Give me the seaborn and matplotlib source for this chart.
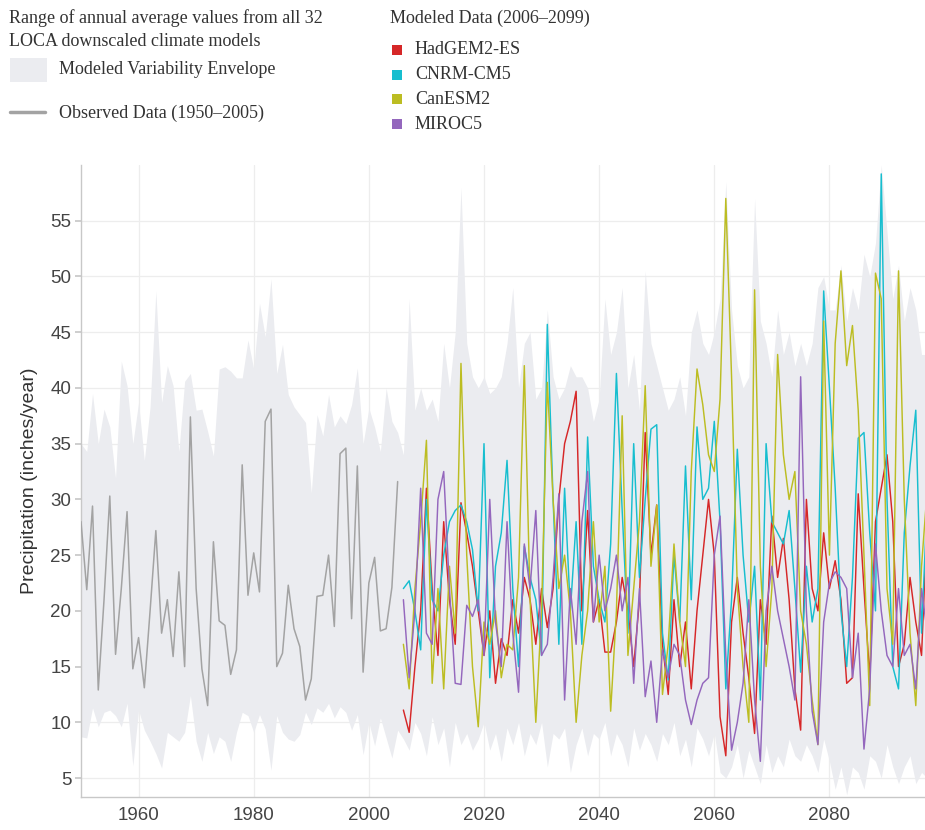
import numpy as np
import pandas as pd
import matplotlib
matplotlib.use("Agg")
import matplotlib.pyplot as plt
import seaborn as sns
from matplotlib.patches import Rectangle
from matplotlib.lines import Line2D

obs_years = list(range(1950, 2006))
observed = [28.0, 21.9, 29.4, 12.9, 21.0, 30.3, 16.1, 22.0, 28.9, 14.8,
            17.6, 13.1, 20.0, 27.2, 18.0, 21.0, 15.9, 23.5, 15.0, 37.4,
            22.0, 14.8, 11.5, 26.2, 19.1, 18.7, 14.3, 16.5, 33.1, 21.4,
            25.2, 21.7, 37.0, 38.1, 15.0, 16.2, 22.3, 18.4, 16.8, 12.0,
            13.9, 21.3, 21.4, 25.0, 18.6, 34.1, 34.6, 19.3, 33.0, 14.5,
            22.5, 24.8, 18.2, 18.4, 22.1, 31.6]

env_years = list(range(1950, 2100))
env_upper = [35.0, 34.3, 39.5, 35.0, 38.1, 36.5, 31.9, 42.4, 40.2, 35.0,
             38.7, 33.5, 38.3, 48.7, 38.7, 42.0, 40.2, 34.3, 40.6, 41.3,
             38.0, 38.1, 36.1, 33.9, 41.7, 41.9, 41.5, 40.9, 40.9, 44.3,
             41.7, 47.6, 44.6, 49.8, 41.3, 43.9, 39.4, 38.3, 37.6, 36.9,
             30.6, 37.6, 35.7, 39.4, 36.5, 37.5, 36.8, 38.5, 41.8, 35.0,
             38.2, 36.5, 34.3, 40.0, 37.0, 36.0,
             34.0, 48.0, 38.0, 40.0, 38.0, 39.0, 37.0, 44.0, 40.0, 45.0,
             58.0, 44.0, 41.0, 40.0, 41.0, 39.5, 40.0, 41.0, 44.0, 49.0,
             40.0, 44.0, 45.0, 39.0, 40.0, 47.0, 41.0, 39.0, 40.0, 42.0,
             41.0, 41.0, 40.0, 37.0, 39.0, 48.0, 43.0, 45.0, 49.0, 40.0,
             43.0, 38.0, 50.5, 44.0, 42.0, 40.0, 38.0, 39.0, 41.0, 37.5,
             45.0, 47.0, 44.0, 43.0, 45.0, 48.0, 58.5, 47.0, 42.0, 40.0,
             41.0, 57.0, 46.0, 44.0, 41.0, 47.0, 43.0, 45.0, 42.0, 44.0,
             42.0, 44.0, 49.0, 50.0, 47.0, 47.0, 51.0, 46.0, 49.0, 47.0,
             52.0, 50.0, 53.0, 60.0, 54.0, 48.0, 51.0, 46.0, 49.0, 47.0,
             43.0, 43.0, 44.0, 43.0]
env_lower = [8.7, 8.6, 11.3, 9.6, 10.9, 11.1, 10.6, 9.6, 11.7, 6.1,
             11.1, 9.3, 8.3, 7.2, 5.9, 9.1, 8.7, 8.3, 9.1, 12.4,
             8.3, 6.5, 9.1, 7.2, 8.7, 8.3, 6.5, 9.1, 10.9, 10.6,
             9.1, 10.7, 9.4, 5.7, 10.6, 9.1, 8.5, 8.3, 8.9, 10.9,
             9.8, 11.3, 10.9, 11.7, 10.4, 11.4, 10.9, 9.3, 10.7, 7.1,
             10.0, 7.9, 10.4, 8.6, 6.8, 9.3,
             8.5, 7.5, 10.0, 9.0, 7.0, 10.5, 8.0, 9.5, 6.0, 10.0,
             8.0, 9.0, 7.5, 8.5, 10.0, 7.5, 9.0, 6.5, 9.5, 8.0,
             10.0, 7.0, 9.0, 8.0, 10.0, 6.0, 9.0, 8.5, 9.5, 5.5,
             8.0, 9.5, 7.0, 9.0, 8.5, 10.0, 7.0, 9.0, 8.0, 6.0,
             9.5, 7.5, 9.0, 8.0, 6.5, 9.0, 8.0, 10.0, 7.0, 8.5,
             6.0, 9.5, 8.5, 7.0, 9.0, 5.5, 5.0, 6.0, 8.0, 5.0,
             7.5, 6.0, 4.5, 8.0, 5.5, 7.0, 6.0, 8.5, 7.0, 6.5,
             8.0, 7.0, 5.5, 8.5, 6.5, 4.0, 6.0, 3.5, 6.0, 5.5,
             4.0, 7.0, 6.5, 5.0, 8.0, 6.0, 4.5, 6.0, 7.0, 4.5,
             5.5, 5.0, 5.5, 5.0]

model_years = list(range(2006, 2100))
hadgem2_es = [11.1, 9.1, 15.0, 20.0, 31.0, 22.0, 16.0, 28.0, 21.0, 17.0,
              29.7, 27.0, 24.0, 20.0, 16.0, 20.0, 13.5, 17.5, 16.0, 21.0,
              18.0, 23.0, 21.0, 17.0, 22.0, 18.5, 22.0, 30.0, 35.0, 37.0,
              39.7, 20.0, 29.0, 19.0, 21.0, 16.3, 16.3, 19.0, 23.0, 20.0,
              15.0, 21.0, 36.0, 25.0, 29.5, 17.0, 12.5, 21.0, 15.0, 19.0,
              13.0, 20.0, 25.0, 30.0, 25.0, 10.5, 7.0, 19.0, 23.0, 18.0,
              14.0, 9.0, 21.0, 17.0, 28.5, 23.0, 26.5, 21.0, 13.0, 9.3,
              30.0, 22.0, 20.0, 27.0, 22.0, 24.5, 21.0, 13.5, 14.0, 30.5,
              22.0, 14.0, 28.0, 31.0, 34.0, 28.0, 15.0, 17.0, 23.0, 19.0,
              16.0, 28.5, 22.0, 25.0]
cnrm_cm5 = [22.0, 22.7, 20.0, 16.5, 30.0, 21.0, 20.0, 25.0, 28.0, 29.0,
            29.5, 28.0, 25.5, 20.0, 35.0, 14.0, 24.0, 27.0, 33.5, 22.0,
            15.0, 25.8, 23.0, 21.0, 16.0, 45.7, 30.0, 17.0, 31.0, 20.0,
            28.0, 17.0, 35.6, 24.0, 21.0, 19.0, 26.0, 41.3, 29.0, 18.0,
            35.0, 23.0, 30.0, 36.3, 36.7, 18.0, 13.8, 25.0, 19.0, 33.0,
            21.0, 36.5, 30.0, 31.0, 37.0, 28.0, 13.0, 21.0, 34.5, 25.0,
            19.0, 24.0, 12.0, 35.0, 28.0, 27.0, 26.0, 29.0, 22.0, 14.5,
            24.0, 19.0, 22.0, 48.7, 40.0, 31.0, 20.0, 15.0, 23.0, 35.5,
            36.0, 27.0, 20.0, 59.2, 30.0, 15.0, 13.0, 27.0, 33.0, 38.0,
            18.0, 30.0, 20.0, 22.0]
canesm2 = [17.0, 13.0, 22.0, 28.0, 35.3, 13.5, 22.0, 13.0, 24.0, 18.0,
           42.2, 25.0, 15.0, 9.6, 19.0, 17.0, 20.0, 14.0, 17.0, 16.5,
           23.0, 42.0, 21.0, 10.0, 20.0, 40.5, 30.0, 22.0, 25.0, 20.0,
           10.0, 16.0, 20.0, 28.0, 19.0, 24.0, 11.0, 20.0, 37.5, 16.0,
           22.0, 28.0, 40.2, 24.0, 29.5, 12.5, 17.0, 26.0, 19.0, 15.0,
           32.5, 41.7, 38.5, 34.0, 32.5, 39.0, 57.0, 41.0, 22.0, 15.0,
           10.0, 48.8, 24.0, 15.0, 22.0, 43.0, 34.0, 30.0, 32.5, 20.0,
           17.0, 12.0, 8.0, 46.0, 25.0, 44.0, 50.5, 42.0, 45.6, 38.0,
           25.0, 11.5, 50.3, 48.0, 22.0, 17.0, 50.5, 30.0, 18.0, 11.5,
           24.0, 31.0, 20.0, 24.0]
miroc5 = [21.0, 14.0, 20.0, 31.0, 18.0, 17.0, 30.0, 32.5, 22.0, 13.5,
          13.4, 20.5, 19.5, 21.0, 16.0, 30.0, 19.0, 15.0, 28.0, 18.0,
          12.7, 26.0, 22.0, 29.0, 16.0, 17.0, 23.0, 30.5, 12.0, 22.0,
          17.0, 28.0, 32.5, 19.0, 25.0, 20.0, 22.0, 25.0, 20.0, 23.0,
          13.5, 22.0, 12.3, 15.5, 10.0, 16.5, 14.0, 17.0, 16.0, 12.0,
          9.8, 12.0, 13.5, 14.0, 25.0, 28.5, 16.0, 7.5, 10.0, 13.5,
          21.0, 12.0, 6.5, 20.0, 24.0, 20.0, 17.5, 15.0, 12.0, 41.0,
          20.0, 11.0, 8.0, 19.0, 22.5, 23.5, 23.0, 22.0, 14.0, 18.0,
          7.6, 13.0, 26.0, 20.0, 16.0, 15.0, 22.0, 16.0, 17.0, 13.0,
          22.0, 18.0, 17.5, 20.0]

model_names = ["HadGEM2-ES", "CNRM-CM5", "CanESM2", "MIROC5"]
model_colors = ["#d62728", "#17becf", "#bcbd22", "#9467bd"]
model_values = [hadgem2_es, cnrm_cm5, canesm2, miroc5]

y_ticks = [5, 10, 15, 20, 25, 30, 35, 40, 45, 50, 55]
x_ticks = [1960, 1980, 2000, 2020, 2040, 2060, 2080]

sns.set_theme(style="white")
plt.rcParams["font.family"] = ["Liberation Sans", "DejaVu Sans"]

fig = plt.figure(figsize=(9.25, 8.3), dpi=100)
ax = fig.add_axes([81 / 925, 1 - 797 / 830, 1 - 81 / 925, (797 - 165) / 830])

env_color = "#ebecf0"
ax.fill_between(env_years, env_lower, env_upper, color=env_color, lw=0, zorder=1)

obs_df = pd.DataFrame({"year": obs_years, "value": observed})
sns.lineplot(data=obs_df, x="year", y="value", color="#a3a3a3", lw=1.1, ax=ax, zorder=3)

long = pd.DataFrame({
    "year": model_years * len(model_names),
    "value": sum(model_values, []),
    "model": sum([[n] * len(model_years) for n in model_names], []),
})
sns.lineplot(data=long, x="year", y="value", hue="model", hue_order=model_names,
             palette=model_colors, lw=1.05, ax=ax, legend=False, zorder=4, sort=False)

ax.set_xlim(1950, 2096.6)
ax.set_ylim(3.3, 60)
ax.set_yticks(y_ticks)
ax.set_xticks(x_ticks)
ax.grid(True, color="#ededed", lw=0.9, zorder=0)
ax.set_axisbelow(True)
for s in ["top", "right"]:
    ax.spines[s].set_visible(False)
for s in ["left", "bottom"]:
    ax.spines[s].set_color("#c8c8c8")
    ax.spines[s].set_linewidth(1.0)
ax.tick_params(axis="y", length=4, color="#c8c8c8", labelsize=13.5, labelcolor="#444444", pad=3, left=True)
ax.tick_params(axis="x", length=0, labelsize=13.5, labelcolor="#444444", pad=7)
ax.set_xlabel("")
ax.set_ylabel("Precipitation (inches/year)", fontsize=14, color="#333333", labelpad=9)

serif = ["Liberation Serif", "DejaVu Serif"]
def fx(px):
    return px / 925
def fy(py):
    return 1 - py / 830

tcol = "#333333"
fs = 13
fig.text(fx(9), fy(18), "Range of annual average values from all 32", family=serif, fontsize=fs, color=tcol, va="center")
fig.text(fx(9), fy(41), "LOCA downscaled climate models", family=serif, fontsize=fs, color=tcol, va="center")
fig.patches.append(Rectangle((fx(10), fy(82)), fx(37), fy(58) - fy(82), transform=fig.transFigure,
                             facecolor=env_color, edgecolor="none"))
fig.text(fx(59), fy(70), "Modeled Variability Envelope", family=serif, fontsize=fs, color=tcol, va="center")
fig.lines.append(Line2D([fx(10), fx(45)], [fy(112), fy(112)], transform=fig.transFigure, color="#a3a3a3", lw=2.5))
fig.text(fx(59), fy(113), "Observed Data (1950\u20132005)", family=serif, fontsize=fs, color=tcol, va="center")

fig.text(fx(390), fy(18), "Modeled Data (2006\u20132099)", family=serif, fontsize=fs, color=tcol, va="center")
for i, (n, c) in enumerate(zip(model_names, model_colors)):
    yc = 50 + i * 24.7
    fig.patches.append(Rectangle((fx(392), fy(yc + 5)), fx(10), fy(0) - fy(10), transform=fig.transFigure,
                                 facecolor=c, edgecolor="none"))
    fig.text(fx(415), fy(yc), n, family=serif, fontsize=fs, color=tcol, va="center")

fig.savefig("out.png", dpi=100)
